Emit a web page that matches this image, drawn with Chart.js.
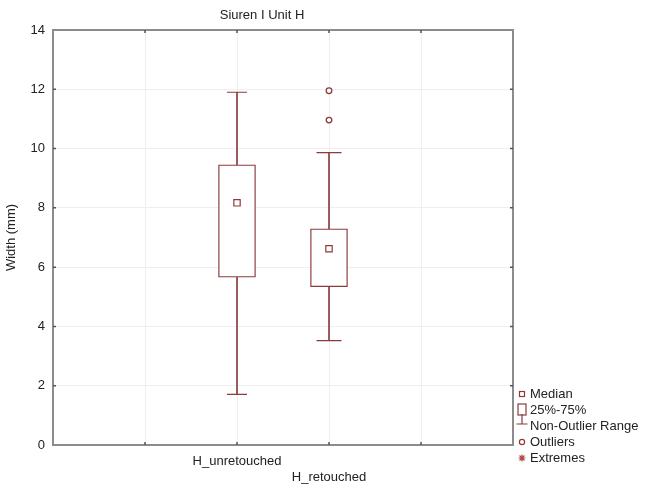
<!DOCTYPE html>
<html>
<head>
<meta charset="utf-8">
<script src="https://cdn.jsdelivr.net/npm/chart.js@4/dist/chart.umd.min.js"></script>
<style>
  html, body { margin: 0; padding: 0; background: #fff; }
  #wrap { width: 650px; height: 488px; }
</style>
</head>
<body>
<div id="wrap"><canvas id="boxChart"></canvas></div>
<script>
// Box plot data, width (mm)
var chartTitle = 'Siuren I Unit H';
var groups = ['H_unretouched', 'H_retouched'];
var medians = [8.17, 6.62];
var q1 = [5.66, 5.34];
var q3 = [9.45, 7.29];
var whiskerLow = [1.71, 3.52];
var whiskerHigh = [11.9, 9.86];
var outliers = [[], [10.96, 11.95]];
var yTicks = [0, 2, 4, 6, 8, 10, 12, 14];

var maroon = '#8b3b3b';
var textColor = '#222';
var font = { family: '"Liberation Sans", Arial, sans-serif', size: 13 };

// two empty slots on each side of the groups
var slots = ['', ''].concat(groups, ['', '']);

function bySlot(fn) {
  return slots.map(function(label) {
    var i = groups.indexOf(label);
    return i < 0 || label === '' ? null : fn(i);
  });
}

function points(values) {
  var out = [];
  groups.forEach(function(g, i) {
    values[i].forEach(function(v) { out.push({ x: g, y: v }); });
  });
  return out;
}

// frame round the plot with short inward ticks
var framePlugin = {
  id: 'frame',
  beforeDatasetsDraw: function(chart) {
    var a = chart.chartArea, ctx = chart.ctx;
    var xs = chart.scales.x, ys = chart.scales.y;
    ctx.save();
    ctx.strokeStyle = '#8c8c8c';
    ctx.lineWidth = 2;
    ctx.strokeRect(a.left, a.top, a.right - a.left, a.bottom - a.top);
    ctx.lineWidth = 1.5;
    ctx.strokeStyle = '#555';
    ctx.beginPath();
    for (var i = 1; i < slots.length - 1; i++) {
      var px = xs.getPixelForTick(i);
      ctx.moveTo(px, a.bottom); ctx.lineTo(px, a.bottom - 3);
      ctx.moveTo(px, a.top); ctx.lineTo(px, a.top + 3);
    }
    for (var j = 1; j < yTicks.length - 1; j++) {
      var py = ys.getPixelForValue(yTicks[j]);
      ctx.moveTo(a.left, py); ctx.lineTo(a.left + 3, py);
      ctx.moveTo(a.right, py); ctx.lineTo(a.right - 3, py);
    }
    ctx.stroke();
    ctx.restore();
  }
};

// title sits a little left of the plot centre
var titlePlugin = {
  id: 'plotTitle',
  afterDraw: function(chart) {
    var ctx = chart.ctx;
    ctx.save();
    ctx.font = font.size + 'px ' + font.family;
    ctx.fillStyle = textColor;
    ctx.textAlign = 'center';
    ctx.textBaseline = 'middle';
    ctx.fillText(chartTitle, 262, 15);
    ctx.restore();
  }
};

// legend with box plot symbols
var legendPlugin = {
  id: 'boxLegend',
  afterDraw: function(chart) {
    var a = chart.chartArea, ctx = chart.ctx;
    var sx = a.right + 9, tx = a.right + 17;
    var rows = ['Median', '25%-75%', 'Non-Outlier Range', 'Outliers', 'Extremes'];
    ctx.save();
    ctx.font = font.size + 'px ' + font.family;
    ctx.textBaseline = 'middle';
    ctx.textAlign = 'left';
    rows.forEach(function(label, r) {
      var y = a.bottom - 51 + r * 16;
      ctx.strokeStyle = maroon;
      ctx.lineWidth = 1.2;
      if (r === 0) {
        ctx.strokeRect(sx - 2.5, y - 2.5, 5, 5);
      } else if (r === 1) {
        ctx.strokeRect(sx - 4, y - 6, 8, 11);
      } else if (r === 2) {
        ctx.beginPath();
        ctx.moveTo(sx, y - 12); ctx.lineTo(sx, y - 2);
        ctx.moveTo(sx - 5.5, y - 2); ctx.lineTo(sx + 5.5, y - 2);
        ctx.stroke();
      } else if (r === 3) {
        ctx.beginPath();
        ctx.arc(sx, y, 2.6, 0, Math.PI * 2);
        ctx.stroke();
      } else {
        ctx.strokeStyle = '#b04848';
        ctx.beginPath();
        for (var k = 0; k < 4; k++) {
          var ang = k * Math.PI / 4;
          ctx.moveTo(sx - 3.5 * Math.cos(ang), y - 3.5 * Math.sin(ang));
          ctx.lineTo(sx + 3.5 * Math.cos(ang), y + 3.5 * Math.sin(ang));
        }
        ctx.stroke();
      }
      ctx.fillStyle = textColor;
      ctx.fillText(label, tx, y);
    });
    ctx.restore();
  }
};

var ctx = document.getElementById('boxChart').getContext('2d');
var boxChart = new Chart(ctx, {
  type: 'bar',
  data: {
    labels: slots,
    datasets: [
      {
        // 25%-75% boxes
        type: 'bar',
        data: bySlot(function(i) { return [q1[i], q3[i]]; }),
        backgroundColor: '#fff',
        borderColor: maroon,
        borderWidth: 1.3,
        borderSkipped: false,
        barThickness: 37,
        grouped: false,
        order: 1
      },
      {
        // non-outlier range
        type: 'bar',
        data: bySlot(function(i) { return [whiskerLow[i], whiskerHigh[i]]; }),
        backgroundColor: maroon,
        borderWidth: 0,
        barThickness: 1,
        grouped: false,
        order: 2
      },
      {
        // whisker caps
        type: 'line',
        data: points(groups.map(function(g, i) { return [whiskerLow[i], whiskerHigh[i]]; })),
        showLine: false,
        pointStyle: 'line',
        pointRadius: [10, 10, 12.5, 12.5],
        borderColor: maroon,
        borderWidth: 1.2,
        order: 0
      },
      {
        // medians
        type: 'line',
        data: bySlot(function(i) { return medians[i]; }),
        showLine: false,
        pointStyle: 'rect',
        pointRadius: 4.5,
        pointBackgroundColor: '#fff',
        pointBorderColor: maroon,
        pointBorderWidth: 1.2,
        order: 0
      },
      {
        // outliers
        type: 'line',
        data: points(outliers),
        showLine: false,
        pointStyle: 'circle',
        pointRadius: 2.8,
        pointBackgroundColor: '#fff',
        pointBorderColor: maroon,
        pointBorderWidth: 1.3,
        order: 0
      }
    ]
  },
  options: {
    responsive: true,
    maintainAspectRatio: false,
    animation: false,
    layout: { padding: { top: 30, right: 137, left: 0, bottom: 0 } },
    plugins: {
      legend: { display: false },
      tooltip: { enabled: false }
    },
    scales: {
      x: {
        type: 'category',
        offset: false,
        grid: { color: '#efefef', drawTicks: false, offset: false },
        border: { display: false },
        ticks: {
          autoSkip: false,
          maxRotation: 0,
          padding: 9,
          color: textColor,
          font: font,
          callback: function(value, index) {
            var label = slots[index];
            // stagger every second group label onto a lower line
            return groups.indexOf(label) % 2 === 1 ? ['', label] : label;
          }
        },
        afterFit: function(scale) { scale.height = 43; }
      },
      y: {
        min: yTicks[0],
        max: yTicks[yTicks.length - 1],
        grid: { color: '#efefef', drawTicks: false },
        border: { display: false },
        ticks: {
          stepSize: yTicks[1] - yTicks[0],
          padding: 8,
          color: textColor,
          font: font
        },
        title: {
          display: true,
          text: 'Width (mm)',
          color: textColor,
          font: font,
          padding: { top: 4, bottom: 0 }
        },
        afterFit: function(scale) { scale.width = 53; }
      }
    }
  },
  plugins: [framePlugin, titlePlugin, legendPlugin]
});
</script>
</body>
</html>
